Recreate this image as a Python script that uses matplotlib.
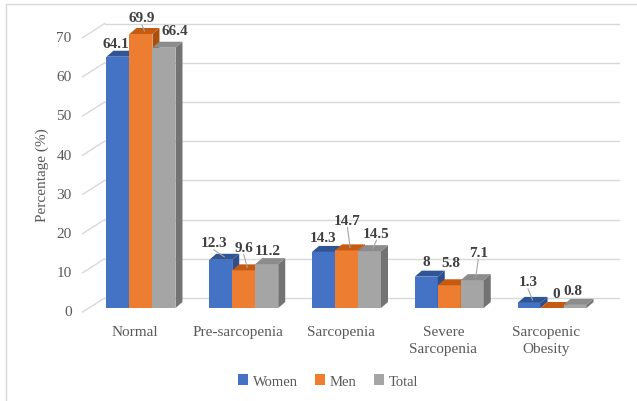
import matplotlib
matplotlib.use("Agg")
import matplotlib.pyplot as plt
from matplotlib.patches import Polygon, Patch
from matplotlib.lines import Line2D
from matplotlib.transforms import IdentityTransform, offset_copy
import numpy as np

# data
categories = ["Normal", "Pre-sarcopenia", "Sarcopenia", "Severe\nSarcopenia", "Sarcopenic\nObesity"]
series_names = ["Women", "Men", "Total"]
women = [64.1, 12.3, 14.3, 8, 1.3]
men = [69.9, 9.6, 14.7, 5.8, 0]
total = [66.4, 11.2, 14.5, 7.1, 0.8]
y_ticks = [0, 10, 20, 30, 40, 50, 60, 70]

# styling
front_cols = ["#4472C4", "#ED7D31", "#A5A5A5"]
top_cols = ["#2F5597", "#C55A11", "#8C8C8C"]
side_cols = ["#2E4E8C", "#A9500F", "#737373"]
grid_col = "#D9D9D9"
txt_col = "#595959"
lbl_col = "#404040"
serif = "Liberation Serif"

W, H = 637, 402
DX, DY = 7, 6            # bar depth in pixels
BACK = (15, 10)          # back wall offset from bar front plane
FRONT = (-7, -4)         # front edge offset
PX_PER_UNIT = 3.92

# label offsets (px, relative to bar top-front centre) and leader flags
label_off = [
    [(-2, 13), (-7, 17), (0, 14), (0, 15), (-1, 21)],
    [(1, 16), (0, 23), (1, 30), (2, 23), (4, 14)],
    [(11, 17), (1, 14), (7, 18), (6, 28), (-2, 14)],
]
leader = [
    [False, True, False, False, True],
    [True, True, True, False, False],
    [False, False, True, True, False],
]

fig = plt.figure(figsize=(W / 100, H / 100), dpi=100)
ax_left, ax_right = 89.6, 603.4
ax_bottom = 93
ymax = 75
ax = fig.add_axes([ax_left / W, ax_bottom / H, (ax_right - ax_left) / W, ymax * PX_PER_UNIT / H])
ax.set_xlim(-0.5, len(categories) - 0.5)
ax.set_ylim(0, ymax)
ax.axis("off")

x = np.arange(len(categories))
bw = 23 / ((ax_right - ax_left) / len(categories))
values = [women, men, total]

back_tr = offset_copy(ax.transData, fig=fig, x=BACK[0], y=BACK[1], units="dots")
front_tr = offset_copy(ax.transData, fig=fig, x=FRONT[0], y=FRONT[1], units="dots")

# back wall gridlines + side wall lines
for t in y_ticks:
    ax.plot([-0.5, len(categories) - 0.5 + 0.005], [t, t], color=grid_col, lw=1,
            transform=back_tr, clip_on=False, zorder=1)
    p1 = front_tr.transform((-0.5, t))
    p2 = back_tr.transform((-0.5, t))
    ax.add_line(Line2D([p1[0], p2[0]], [p1[1], p2[1]], color=grid_col, lw=1,
                       transform=IdentityTransform(), clip_on=False, zorder=1))
    ax.text(-0.5, t, str(t), transform=offset_copy(ax.transData, fig=fig, x=FRONT[0] - 11, y=FRONT[1], units="dots"),
            ha="right", va="center", fontsize=11, color=txt_col, family=serif)

# bars
for i in range(len(categories)):
    for s in range(3):
        xc = x[i] + (s - 1) * bw
        v = values[s][i]
        ax.bar(xc, v, bw, color=front_cols[s], zorder=3 + i * 3 + s, linewidth=0)
        (x0, y0) = ax.transData.transform((xc - bw / 2, 0))
        (x1, y1) = ax.transData.transform((xc + bw / 2, v))
        top = Polygon([(x0, y1), (x1, y1), (x1 + DX, y1 + DY), (x0 + DX, y1 + DY)],
                      closed=True, facecolor=top_cols[s], edgecolor="none",
                      transform=IdentityTransform(), clip_on=False, zorder=3 + i * 3 + s)
        side = Polygon([(x1, y0), (x1, y1), (x1 + DX, y1 + DY), (x1 + DX, y0 + DY)],
                       closed=True, facecolor=side_cols[s], edgecolor="none",
                       transform=IdentityTransform(), clip_on=False, zorder=3 + i * 3 + s)
        ax.add_patch(side)
        ax.add_patch(top)

        ox, oy = label_off[s][i]
        cx = (x0 + x1) / 2
        lx, ly = cx + ox, y1 + oy
        fig.text(lx / W, ly / H, f"{v:g}", ha="center", va="center", fontsize=11,
                 fontweight="bold", color=lbl_col, family=serif, zorder=50)
        if leader[s][i]:
            ax.add_line(Line2D([lx, cx + DX / 2], [ly - 7, y1 + DY / 2], color="#A6A6A6", lw=0.8,
                               transform=IdentityTransform(), clip_on=False, zorder=40))

# category labels
for i, c in enumerate(categories):
    ax.text(x[i], 0, c, transform=offset_copy(ax.transData, fig=fig, x=-6, y=-17, units="dots"),
            ha="center", va="top", fontsize=11, color=txt_col, family=serif, linespacing=1.4)

# y label
fig.text(42 / W, 1 - 175 / H, "Percentage (%)", rotation=90, ha="center", va="center",
         fontsize=11, color=txt_col, family=serif)

# legend
handles = [Patch(facecolor=c, edgecolor="none") for c in front_cols]
fig.legend(handles, series_names, loc="center", bbox_to_anchor=(328 / W, 1 - 382 / H), ncol=3,
           frameon=False, handlelength=0.7, handleheight=0.7, handletextpad=0.3, columnspacing=1.2,
           prop={"family": serif, "size": 10.5}, labelcolor=txt_col)

# chart border (top / left visible)
fig.add_artist(Line2D([6 / W, 6 / W], [0, 1 - 5 / H], color=grid_col, lw=1))
fig.add_artist(Line2D([6 / W, 1], [1 - 5 / H, 1 - 5 / H], color=grid_col, lw=1))

fig.savefig("out.png", dpi=100)
plt.close(fig)
